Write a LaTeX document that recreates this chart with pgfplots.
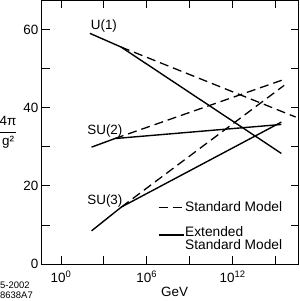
\documentclass[border=0pt]{standalone}
\usepackage{fontspec}
\setmainfont{Liberation Sans}
\usepackage{pgfplots}
\pgfplotsset{compat=1.18}
\usetikzlibrary{calc}
\begin{document}
\begin{tikzpicture}
\begin{axis}[name=ax, scale only axis, width=257bp, height=264bp,
  xmin=-1.33, xmax=16.6, ymin=0, ymax=67.4,
  font=\fontsize{13.5}{16}\selectfont,
  xtick={0,3,6,9,12,15},
  xticklabels={10\textsuperscript{0},,10\textsuperscript{6},,10\textsuperscript{12},},
  xticklabel style={yshift=-3bp},
  ytick={0,10,20,30,40,50,60},
  yticklabels={0,,20,,40,,60},
  tick align=inside, major tick length=8bp,
  tick style={black, line width=0.8pt},
  axis line style={line width=0.9pt},
  xlabel={GeV},
  xlabel style={at={(axis description cs:0.517,-0.106)}, anchor=center},
  ylabel={$\displaystyle\frac{\mbox{4π}}{\mbox{g²}}$},
  ylabel style={at={(axis description cs:-0.132,0.5)}, rotate=-90, anchor=center},
  legend image code/.code={\draw[#1] (0bp,0bp) -- (25bp,0bp);},
  legend style={draw=none, fill=none, inner sep=0pt, at={(rel axis cs:0.451,0.24)}, anchor=north west,
    row sep=10bp, cells={anchor=west}, nodes={inner sep=1pt, font=\fontsize{13.8}{16}\selectfont},
    /tikz/every even column/.append style={column sep=11bp}},
  sol/.style={black, line width=1.4pt},
  das/.style={black, line width=1.3pt, dash pattern=on 9bp off 5bp},
]
\addlegendimage{das}
\addlegendentry{Standard Model}
\addlegendimage{sol}
\addlegendentry{\begin{tabular}{@{}l@{}}Extended\\[-3pt]Standard Model\end{tabular}}
% U(1)
\addplot[sol, forget plot] coordinates {(2.02,59.0) (4.2,55.5) (15.4,28.3)};
\addplot[das, forget plot] coordinates {(4.2,55.5) (16.4,37.6)};
% SU(2)
\addplot[sol, forget plot] coordinates {(2.14,29.9) (3.77,32.1) (15.4,35.7)};
\addplot[das, forget plot] coordinates {(3.77,32.1) (15.74,47.4)};
% SU(3)
\addplot[sol, forget plot] coordinates {(2.14,8.5) (4.23,14.6) (15.4,36.3)};
\addplot[das, forget plot] coordinates {(4.23,14.6) (15.6,45.7)};
\node at (axis cs:3.0,60.9) {U(1)};
\node at (axis cs:3.07,34.0) {SU(2)};
\node at (axis cs:3.07,16.1) {SU(3)};
\end{axis}
\node[anchor=north west, align=left, inner sep=0pt, font=\fontsize{9.5}{9.5}\selectfont]
  at ($(ax.south west)+(-42bp,-18bp)$) {5-2002\\8638A7};
\pgfresetboundingbox
\path[use as bounding box] ($(ax.south west)+(-42bp,-37bp)$) rectangle ($(ax.north east)+(1bp,0.5bp)$);
\end{tikzpicture}
\end{document}
